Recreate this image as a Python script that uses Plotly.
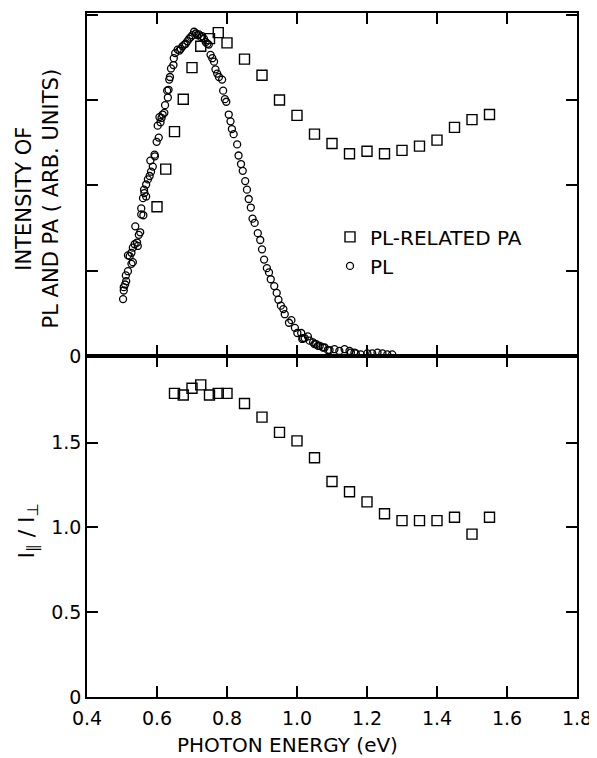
import plotly.graph_objects as go
from plotly.subplots import make_subplots

# PL-related PA intensity (top panel)
pa_energy = [0.60, 0.625, 0.65, 0.675, 0.70, 0.725, 0.75, 0.775, 0.80,
             0.85, 0.90, 0.95, 1.00, 1.05, 1.10, 1.15,
             1.20, 1.25, 1.30, 1.35, 1.40, 1.45, 1.50, 1.55]
pa_intensity = [1.75, 2.19, 2.63, 3.01, 3.38, 3.63, 3.72, 3.79, 3.67,
                3.48, 3.29, 3.00, 2.82, 2.60, 2.49, 2.37,
                2.40, 2.37, 2.41, 2.46, 2.53, 2.68, 2.77, 2.83]

# PL intensity (top panel)
pl_energy = [0.503, 0.505, 0.505, 0.509, 0.511, 0.512, 0.517, 0.517, 0.522, 0.527,
             0.527, 0.531, 0.531, 0.536, 0.538, 0.543, 0.545, 0.548, 0.552, 0.555,
             0.555, 0.560, 0.561, 0.564, 0.563, 0.569, 0.569, 0.574, 0.579, 0.583,
             0.581, 0.588, 0.593, 0.594, 0.599, 0.602, 0.605, 0.607, 0.610, 0.613,
             0.616, 0.621, 0.623, 0.629, 0.631, 0.633, 0.635, 0.637, 0.640, 0.647,
             0.648, 0.652, 0.659, 0.664, 0.668, 0.673, 0.678, 0.682, 0.687, 0.692,
             0.697, 0.701, 0.706, 0.711, 0.715, 0.720, 0.725, 0.729, 0.734, 0.739,
             0.744, 0.748, 0.753, 0.758, 0.763, 0.767, 0.772, 0.777, 0.786, 0.789,
             0.794, 0.798, 0.805, 0.810, 0.814, 0.819, 0.829, 0.833, 0.840, 0.845,
             0.852, 0.857, 0.862, 0.868, 0.873, 0.879, 0.888, 0.895, 0.900, 0.906,
             0.914, 0.920, 0.925, 0.935, 0.942, 0.947, 0.954, 0.961, 0.965, 0.977,
             0.984, 0.994, 1.001, 1.012, 1.015, 1.017, 1.022, 1.031, 1.036, 1.046,
             1.050, 1.055, 1.060, 1.065, 1.074, 1.079, 1.088, 1.093, 1.107, 1.121,
             1.136, 1.150, 1.154, 1.164, 1.168, 1.182, 1.201, 1.215, 1.230, 1.244,
             1.258, 1.272]
pl_intensity = [0.667, 0.768, 0.807, 0.838, 0.944, 0.877, 0.994, 1.18, 1.17, 1.08,
                1.21, 1.10, 1.27, 1.31, 1.52, 1.33, 1.29, 1.42, 1.45, 1.66,
                1.73, 1.85, 1.65, 1.91, 1.95, 2.01, 1.87, 2.07, 2.11, 2.16,
                2.29, 2.22, 2.36, 2.34, 2.51, 2.70, 2.56, 2.80, 2.74, 2.79,
                2.83, 2.85, 2.94, 3.11, 3.03, 3.12, 3.24, 3.27, 3.37, 3.41,
                3.49, 3.55, 3.59, 3.58, 3.60, 3.63, 3.65, 3.66, 3.69, 3.72,
                3.74, 3.76, 3.80, 3.78, 3.76, 3.77, 3.74, 3.75, 3.72, 3.68,
                3.66, 3.65, 3.53, 3.49, 3.45, 3.36, 3.31, 3.27, 3.24, 3.11,
                3.01, 2.98, 2.83, 2.75, 2.66, 2.60, 2.48, 2.35, 2.25, 2.17,
                2.05, 1.95, 1.84, 1.74, 1.61, 1.56, 1.44, 1.36, 1.25, 1.13,
                1.03, 0.98, 0.90, 0.82, 0.74, 0.66, 0.59, 0.55, 0.49, 0.39,
                0.42, 0.33, 0.27, 0.27, 0.20, 0.21, 0.21, 0.23, 0.18, 0.16,
                0.14, 0.14, 0.12, 0.12, 0.10, 0.10, 0.07, 0.07, 0.08, 0.06,
                0.08, 0.06, 0.04, 0.04, 0.03, 0.02, 0.03, 0.03, 0.04, 0.03,
                0.02, 0.02]

# Polarization ratio I_par / I_perp (bottom panel)
ratio_energy = [0.65, 0.675, 0.70, 0.725, 0.75, 0.775, 0.80,
                0.85, 0.90, 0.95, 1.00, 1.05, 1.10, 1.15, 1.20, 1.25,
                1.30, 1.35, 1.40, 1.45, 1.50, 1.55]
ratio_value = [1.79, 1.78, 1.82, 1.84, 1.78, 1.79, 1.79,
               1.73, 1.65, 1.56, 1.51, 1.41, 1.27, 1.21, 1.15, 1.08,
               1.04, 1.04, 1.04, 1.06, 0.96, 1.06]

x_ticks = [0.4, 0.6, 0.8, 1.0, 1.2, 1.4, 1.6, 1.8]
x_ticktext = ["0.4", "0.6", "0.8", "1.0", "1.2", "1.4", "1.6", "1.8"]
top_yticks = [0, 1, 2, 3, 4]
top_yticktext = ["0", "", "", "", ""]
bot_yticks = [0, 0.5, 1.0, 1.5]
bot_yticktext = ["0", "0.5", "1.0", "1.5"]

FONT = "DejaVu Sans"
# the page body has an 8 px margin; the figure is sized so it fills the window
OFF = 8
W, H = 597 - OFF, 758 - OFF
# plot frame in window pixels: left 87, right 577, top 11, bottom 697
ML = 87 - OFF
MR = W - (577 - OFF)
MT = 11 - OFF
MB = H - (697 - OFF)
pw = W - ML - MR
ph = H - MT - MB


def px(xw):
    return (xw - OFF - ML) / pw


def py(yw):
    return (H - MB - (yw - OFF)) / ph


fig = make_subplots(rows=2, cols=1, shared_xaxes=True, vertical_spacing=0.0,
                    row_heights=[0.5015, 0.4985])

fig.add_trace(go.Scatter(x=pa_energy, y=pa_intensity, mode="markers", name="PL-RELATED PA",
                         marker=dict(symbol="square-open", size=10, color="black",
                                     line=dict(width=1.4, color="black"))), row=1, col=1)
fig.add_trace(go.Scatter(x=pl_energy, y=pl_intensity, mode="markers", name="PL",
                         marker=dict(symbol="circle-open", size=7, color="black",
                                     line=dict(width=1.3, color="black"))), row=1, col=1)
fig.add_trace(go.Scatter(x=ratio_energy, y=ratio_value, mode="markers", showlegend=False,
                         marker=dict(symbol="square-open", size=10, color="black",
                                     line=dict(width=1.4, color="black"))), row=2, col=1)

axis_common = dict(showline=True, linecolor="black", linewidth=1.5, mirror="ticks",
                   ticks="inside", ticklen=11, tickwidth=1.5, tickcolor="black",
                   showgrid=False, zeroline=False,
                   tickfont=dict(family=FONT, size=19, color="black"))

fig.update_xaxes(range=[0.4, 1.8], tickvals=x_ticks, ticktext=x_ticktext,
                 ticklabelstandoff=3, **axis_common)
fig.update_xaxes(showticklabels=False, row=1, col=1)
fig.update_yaxes(range=[0, 4.02], tickvals=top_yticks, ticktext=top_yticktext, row=1, col=1,
                 **axis_common)
fig.update_yaxes(range=[0, 2.01], tickvals=bot_yticks, ticktext=bot_yticktext, row=2, col=1,
                 **axis_common)

fig.add_annotation(text="INTENSITY OF<br>PL AND PA ( ARB. UNITS)", textangle=-90,
                   xref="paper", yref="paper", x=px(37), y=py(197),
                   xanchor="center", yanchor="middle", showarrow=False,
                   font=dict(family=FONT, size=21, color="black"))
fig.add_annotation(text="I<sub>\u2225</sub> / I<sub>\u22a5</sub>", textangle=-90,
                   xref="paper", yref="paper", x=px(28), y=py(530),
                   xanchor="center", yanchor="middle", showarrow=False,
                   font=dict(family=FONT, size=22, color="black"))
fig.add_annotation(text="PHOTON ENERGY (eV)",
                   xref="paper", yref="paper", x=px(287), y=py(745),
                   xanchor="center", yanchor="middle", showarrow=False,
                   font=dict(family=FONT, size=20, color="black"))

fig.update_layout(
    width=W, height=H,
    margin=dict(l=ML, r=MR, t=MT, b=MB),
    paper_bgcolor="white", plot_bgcolor="white",
    font=dict(family=FONT, size=20, color="black"),
    showlegend=True,
    legend=dict(x=px(330), y=py(216), xanchor="left", yanchor="top",
                bgcolor="rgba(0,0,0,0)", borderwidth=0, itemwidth=30,
                font=dict(family=FONT, size=20, color="black"), tracegroupgap=0),
)

fig.write_html("out.html")
